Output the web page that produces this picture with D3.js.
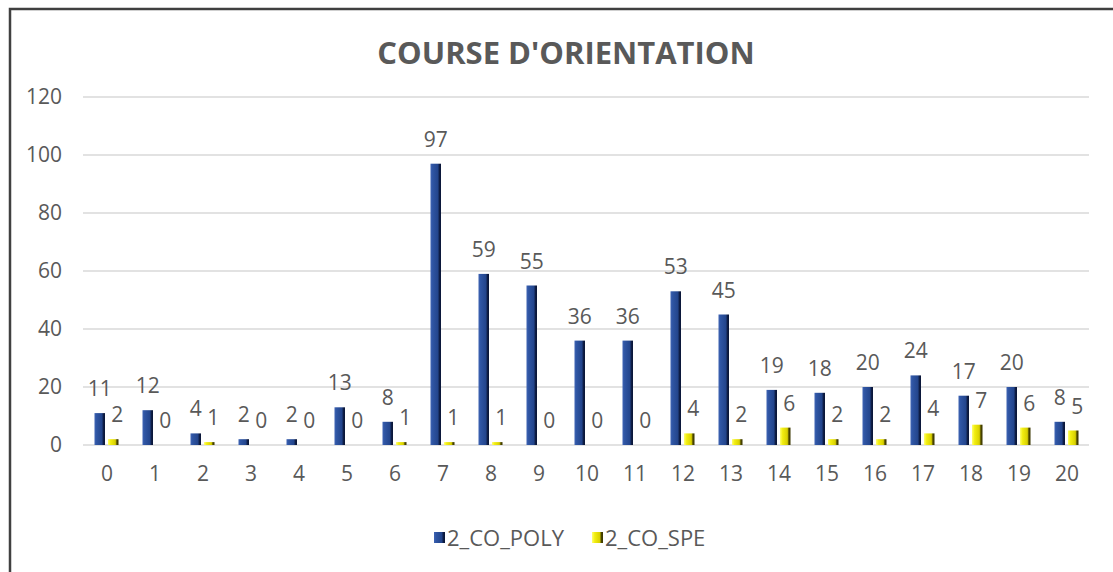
<!DOCTYPE html>
<html>
<head>
<meta charset="utf-8">
<script src="https://cdn.jsdelivr.net/npm/d3@7"></script>
<style>
body{margin:0;background:#fff;}
text{font-family:"Open Sans","Noto Sans",sans-serif;fill:#595959;}
</style>
</head>
<body>
<div id="chart"></div>
<script>
// data
var categories = ["0","1","2","3","4","5","6","7","8","9","10","11","12","13","14","15","16","17","18","19","20"];
var polyValues = [11,12,4,2,2,13,8,97,59,55,36,36,53,45,19,18,20,24,17,20,8];
var speValues  = [2,0,1,0,0,0,1,1,1,0,0,0,4,2,6,2,2,4,7,6,5];
var seriesNames = ["2_CO_POLY","2_CO_SPE"];
var yTicks = [0,20,40,60,80,100,120];

var width = 1113, height = 572;
var svg = d3.select("#chart").append("svg").attr("width",width).attr("height",height);

// gradients for the bevelled bars
var defs = svg.append("defs");
function grad(id, stops){
	var g = defs.append("linearGradient").attr("id",id).attr("x1","0%").attr("x2","100%").attr("y1","0%").attr("y2","0%");
	stops.forEach(function(s){ g.append("stop").attr("offset",s[0]).attr("stop-color",s[1]); });
}
grad("gBlue",[["0%","#3f64b4"],["20%","#2f55a3"],["70%","#23458c"],["85%","#0e1d45"],["100%","#0a1535"]]);
grad("gYellow",[["0%","#ffff70"],["25%","#f2ee10"],["70%","#d8d000"],["85%","#4a4500"],["100%","#3a3600"]]);

// frame
svg.append("rect").attr("x",10).attr("y",9).attr("width",1120).attr("height",600)
	.attr("fill","none").attr("stroke","#404040").attr("stroke-width",2.5);

var plotLeft = 83, plotRight = 1091, plotTop = 97, plotBottom = 445;

var x = d3.scaleBand().domain(categories).range([plotLeft,plotRight]).padding(0);
var y = d3.scaleLinear().domain([0,120]).range([plotBottom,plotTop]);

// gridlines
svg.append("g").selectAll("line").data(yTicks).enter().append("line")
	.attr("x1",plotLeft).attr("x2",1089)
	.attr("y1",function(d){return y(d);}).attr("y2",function(d){return y(d);})
	.attr("stroke","#d9d9d9").attr("stroke-width",1.5);

// y axis labels
var yAxis = d3.axisLeft(y).tickValues(yTicks).tickSize(0).tickPadding(21);
var yg = svg.append("g").attr("transform","translate("+plotLeft+",0)").call(yAxis);
yg.select(".domain").remove();
yg.selectAll("text").style("font-size","21px").attr("fill","#595959");

// x axis labels
var xAxis = d3.axisBottom(x).tickSize(0).tickPadding(21);
var xg = svg.append("g").attr("transform","translate(0,"+plotBottom+")").call(xAxis);
xg.select(".domain").remove();
xg.selectAll("text").style("font-size","21px").attr("fill","#595959");
svg.selectAll("g").attr("font-family",null).attr("font-size",null);

var barW = 10.5, gap = 3;
function bx(i, s){ return x(categories[i]) + x.bandwidth()/2 - barW - gap/2 + s*(barW+gap) - 0.5; }

var series = [polyValues, speValues];
var fills = ["url(#gBlue)","url(#gYellow)"];

series.forEach(function(vals, s){
	var g = svg.append("g");
	g.selectAll("rect").data(vals).enter().append("rect")
		.attr("x",function(d,i){return bx(i,s);})
		.attr("y",function(d){return y(d);})
		.attr("width",barW)
		.attr("height",function(d){return plotBottom - y(d);})
		.attr("fill",fills[s]);
	g.selectAll("text").data(vals).enter().append("text")
		.attr("x",function(d,i){return bx(i,s)+barW/2 + (s==1?4:0);})
		.attr("y",function(d){return y(d)-17;})
		.attr("text-anchor","middle")
		.style("font-size","21px")
		.text(function(d){return d;});
});

// title
svg.append("text").attr("x",566).attr("y",64).attr("text-anchor","middle")
	.style("font-size","31px").style("font-weight","bold").attr("fill","#595959")
	.text("COURSE D'ORIENTATION");

// legend
var legendX = [434, 592];
seriesNames.forEach(function(n,i){
	svg.append("rect").attr("x",legendX[i]).attr("y",532).attr("width",11).attr("height",11).attr("fill",fills[i]);
	svg.append("text").attr("x",legendX[i]+13).attr("y",546).style("font-size","22px").text(n);
});
</script>
</body>
</html>
